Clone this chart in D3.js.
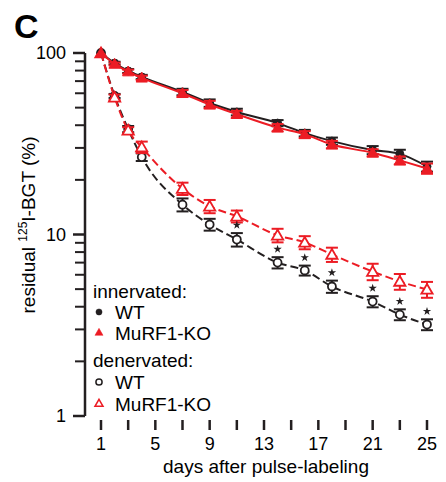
<!DOCTYPE html>
<html>
<head>
<meta charset="utf-8">
<script src="https://cdn.jsdelivr.net/npm/d3@7"></script>
<style>
  body { margin: 0; background: #fff; }
  text { font-family: Arial, "Liberation Sans", sans-serif; }
</style>
</head>
<body>
<div id="wrapper"></div>
<script>
// days sampled after pulse-labeling
const days = [1, 2, 3, 4, 7, 9, 11, 14, 16, 18, 21, 23, 25]

// innervated
const innWT = [100, 88, 79.6, 73.8, 61, 53, 47.3, 41.1, 36.2, 32.7, 29.2, 27.8, 23.7]
const innWTsem = [0, 1.5, 2, 2, 2.5, 2.5, 2, 1.6, 1.5, 1.5, 1.5, 1.5, 1.5]
const innKO = [100, 87, 79, 73, 60, 52, 46, 38.8, 35.6, 31.3, 28.2, 25.6, 23.1]
const innKOsem = [0, 1.5, 2, 2, 2.5, 2.5, 2, 1.8, 1.5, 1.5, 1.3, 1.3, 1.5]

// denervated
const denWT = [100, 58, 38.1, 26.7, 14.6, 11.35, 9.38, 7.0, 6.34, 5.17, 4.27, 3.62, 3.19]
const denWTsem = [0, 1.5, 1.5, 1.3, 1.2, 0.85, 0.8, 0.5, 0.4, 0.4, 0.3, 0.25, 0.22]
const denKO = [100, 57, 37.5, 30.3, 17.9, 14.3, 12.6, 9.9, 9.04, 7.76, 6.25, 5.51, 4.98]
const denKOsem = [0, 2, 1.5, 2.2, 1.4, 1.2, 0.95, 0.85, 0.75, 0.7, 0.65, 0.55, 0.5]

// significant difference WT vs KO (denervated)
const starDays = [11, 14, 16, 18, 21, 23, 25]

const xTicks = [1, 3, 5, 7, 9, 11, 13, 15, 17, 19, 21, 23, 25]
const xLabels = [1, 5, 9, 13, 17, 21, 25]
const yLabels = [1, 10, 100]

const red = "#ec1c24"
const black = "#231f20"

const width = 446
const height = 482

const svg = d3.select("#wrapper").append("svg")
  .attr("width", width)
  .attr("height", height)

const xScale = d3.scaleLinear().domain([1, 25]).range([101, 427])
const yScale = d3.scaleLog().domain([1, 100]).range([416, 53])

// panel letter
svg.append("text")
  .attr("x", 14).attr("y", 38)
  .attr("font-size", 34).attr("font-weight", "bold")
  .text("C")

// y axis
const yAxisX = 85
const minorTicks = yScale.ticks().filter(d => !yLabels.includes(d))
const yAxis = svg.append("g").attr("transform", `translate(${yAxisX},0)`)
yAxis.append("line")
  .attr("y1", yScale(1)).attr("y2", yScale(100))
  .attr("stroke", black).attr("stroke-width", 2.5)
yAxis.selectAll(".minor").data(minorTicks).join("line")
  .attr("x1", -10).attr("x2", 0)
  .attr("y1", d => yScale(d)).attr("y2", d => yScale(d))
  .attr("stroke", black).attr("stroke-width", 2)
yAxis.selectAll(".major").data(yLabels).join("line")
  .attr("x1", -12).attr("x2", 0)
  .attr("y1", d => yScale(d)).attr("y2", d => yScale(d))
  .attr("stroke", black).attr("stroke-width", 2.5)
yAxis.selectAll(".lab").data(yLabels).join("text")
  .attr("x", -19).attr("y", d => yScale(d))
  .attr("dy", "0.35em")
  .attr("text-anchor", "end")
  .attr("font-size", 18)
  .text(d => d)

const yTitle = svg.append("text")
  .attr("transform", `translate(35,${225}) rotate(-90)`)
  .attr("text-anchor", "middle")
  .attr("font-size", 19)
yTitle.append("tspan").text("residual ")
yTitle.append("tspan").attr("font-size", 12).attr("dy", -8).text("125")
yTitle.append("tspan").attr("dy", 8).text("I-BGT (%)")

// x axis (detached ticks, no line)
svg.selectAll(".xtick").data(xTicks).join("line")
  .attr("x1", d => xScale(d)).attr("x2", d => xScale(d))
  .attr("y1", 420).attr("y2", 430)
  .attr("stroke", black).attr("stroke-width", 2.5)
svg.selectAll(".xlab").data(xLabels).join("text")
  .attr("x", d => xScale(d)).attr("y", 450)
  .attr("text-anchor", "middle")
  .attr("font-size", 18)
  .text(d => d)
svg.append("text")
  .attr("x", xScale(13) + 2).attr("y", 473)
  .attr("text-anchor", "middle")
  .attr("font-size", 19)
  .text("days after pulse-labeling")

const line = d3.line()
  .x((d, i) => xScale(days[i]))
  .y(d => yScale(d))
  .curve(d3.curveMonotoneX)

const series = [
  { vals: denWT, sem: denWTsem, color: black, dash: "8,4", shape: "circle", open: true },
  { vals: denKO, sem: denKOsem, color: red, dash: "8,4", shape: "triangle", open: true },
  { vals: innWT, sem: innWTsem, color: black, dash: null, shape: "circle", open: false },
  { vals: innKO, sem: innKOsem, color: red, dash: null, shape: "triangle", open: false },
]

const symbolPath = (shape, size) =>
  d3.symbol().type(shape === "circle" ? d3.symbolCircle : d3.symbolTriangle).size(size)()

series.forEach(s => {
  const g = svg.append("g")
  g.append("path")
    .attr("d", line(s.vals))
    .attr("fill", "none")
    .attr("stroke", s.color)
    .attr("stroke-width", 2)
    .attr("stroke-dasharray", s.dash)

  const pts = days.map((d, i) => ({ day: d, v: s.vals[i], e: s.sem[i] }))
    .filter(p => p.e > 0)
  // error bars with caps
  const eb = g.selectAll(".eb").data(pts).join("g")
    .attr("stroke", s.color).attr("stroke-width", 2)
  eb.append("line")
    .attr("x1", p => xScale(p.day)).attr("x2", p => xScale(p.day))
    .attr("y1", p => yScale(p.v + p.e)).attr("y2", p => yScale(p.v - p.e))
  eb.append("line")
    .attr("x1", p => xScale(p.day) - 6).attr("x2", p => xScale(p.day) + 6)
    .attr("y1", p => yScale(p.v + p.e)).attr("y2", p => yScale(p.v + p.e))
  eb.append("line")
    .attr("x1", p => xScale(p.day) - 6).attr("x2", p => xScale(p.day) + 6)
    .attr("y1", p => yScale(p.v - p.e)).attr("y2", p => yScale(p.v - p.e))

  g.selectAll(".pt").data(days).join("path")
    .attr("transform", (d, i) => `translate(${xScale(d)},${yScale(s.vals[i]) + (s.shape === "triangle" ? 1 : 0)})`)
    .attr("d", symbolPath(s.shape, s.shape === "circle" ? 50 : 55))
    .attr("fill", s.open ? "#fff" : s.color)
    .attr("stroke", s.color)
    .attr("stroke-width", s.open ? 1.8 : 1)
})

// significance stars above denervated WT
svg.selectAll(".star").data(starDays).join("path")
  .attr("transform", d => {
    const i = days.indexOf(d)
    return `translate(${xScale(d)},${yScale(denWT[i] + denWTsem[i]) - 8})`
  })
  .attr("d", d3.symbol().type(d3.symbolStar).size(22)())
  .attr("fill", black)

// legend
const legend = svg.append("g").attr("font-size", 19)
const legendItems = [
  { y: 298, label: "innervated:" },
  { y: 319, label: "WT", shape: "circle", open: false, color: black },
  { y: 340, label: "MuRF1-KO", shape: "triangle", open: false, color: red },
  { y: 367, label: "denervated:" },
  { y: 389, label: "WT", shape: "circle", open: true, color: black },
  { y: 411, label: "MuRF1-KO", shape: "triangle", open: true, color: red },
]
legendItems.forEach(it => {
  if (it.shape) {
    legend.append("path")
      .attr("transform", `translate(99,${it.y - 7})`)
      .attr("d", symbolPath(it.shape, it.shape === "circle" ? 30 : 28))
      .attr("fill", it.open ? "#fff" : it.color)
      .attr("stroke", it.color)
      .attr("stroke-width", it.open ? 1.5 : 0.5)
    legend.append("text").attr("x", 115).attr("y", it.y).text(it.label)
  } else {
    legend.append("text").attr("x", 93).attr("y", it.y).text(it.label)
  }
})
</script>
</body>
</html>
